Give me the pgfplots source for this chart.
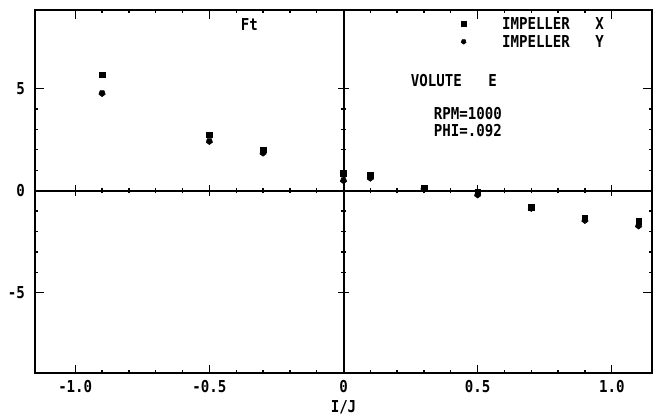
\documentclass[border=0pt]{standalone}
\usepackage{fontspec}
\newfontfamily\plotfont{DejaVu Sans Mono}[FakeStretch=0.86]
\usepackage{pgfplots}
\pgfplotsset{compat=1.18}

\newcommand{\pf}{\plotfont\bfseries\fontsize{12.3}{13}\selectfont}

\begin{document}
\begin{tikzpicture}
\pgfplotsset{
  ftframe/.style={
    width=462.75pt, height=272.5pt, scale only axis,
    xmin=-1.15, xmax=1.15, ymin=-8.95, ymax=8.85,
    xtick={-1,-0.5,0,0.5,1},
    ytick={-5,0,5},
    minor x tick num=4,
    minor y tick num=4,
  }
}
\begin{axis}[
  ftframe,
  name=main,
  axis lines=box,
  axis line style={line width=1.5pt},
  tick align=inside,
  major tick length=6.5pt,
  minor tick length=2.5pt,
  tick style={line width=1pt, black},
  xticklabels={-1.0,-0.5,0,0.5,1.0},
  yticklabels={-5,0,5},
  /pgf/number format/assume math mode=true,
  ticklabel style={font=\pf},
  xticklabel style={yshift=-2pt},
  yticklabel style={xshift=-4pt},
  xlabel={I/J},
  xlabel style={font=\pf, yshift=1pt},
  clip=false,
]
  % IMPELLER X
  \addplot[only marks, mark=square*, mark size=2.1pt, black]
    coordinates {(-0.9,5.67) (-0.5,2.73) (-0.3,2.0) (0,0.85) (0.1,0.75)
                 (0.3,0.15) (0.5,-0.05) (0.7,-0.8) (0.9,-1.35) (1.1,-1.5)};
  % IMPELLER Y
  \addplot[only marks, mark=pentagon*, mark size=2.5pt, mark options={rotate=180}, black]
    coordinates {(-0.9,4.77) (-0.5,2.42) (-0.3,1.85) (0,0.5) (0.1,0.62)
                 (0.3,0.13) (0.5,-0.2) (0.7,-0.86) (0.9,-1.45) (1.1,-1.72)};
  % legend samples
  \addplot[only marks, mark=square*, mark size=1.6pt, black] coordinates {(0.448,8.17)};
  \addplot[only marks, mark=pentagon*, mark size=1.9pt, mark options={rotate=180}, black] coordinates {(0.448,7.3)};
  \node[font=\pf, anchor=west, inner sep=0pt] at (axis cs:0.59,8.17) {IMPELLER\hspace{19pt}X};
  \node[font=\pf, anchor=west, inner sep=0pt] at (axis cs:0.59,7.3) {IMPELLER\hspace{19pt}Y};
  \node[font=\pf, inner sep=0pt] at (axis cs:-0.351,8.16) {Ft};
  \node[font=\pf, anchor=west, inner sep=0pt] at (axis cs:0.25,5.41) {VOLUTE\hspace{20pt}E};
  \node[font=\pf, anchor=west, inner sep=0pt, align=left] at (axis cs:0.336,3.35)
    {RPM=1000\\[0pt]PHI=.092};
\end{axis}
\begin{axis}[
  ftframe,
  axis lines=middle,
  axis line style={-, line width=1.5pt},
  tick align=center,
  major tick length=8pt,
  minor tick length=4pt,
  tick style={line width=1pt, black},
  xticklabels={}, yticklabels={},
]
\end{axis}
\pgfresetboundingbox
\path[use as bounding box] ([xshift=-26.25pt,yshift=-33.5pt]main.south west)
  rectangle ([xshift=6.75pt,yshift=7.5pt]main.north east);
\end{tikzpicture}
\end{document}
